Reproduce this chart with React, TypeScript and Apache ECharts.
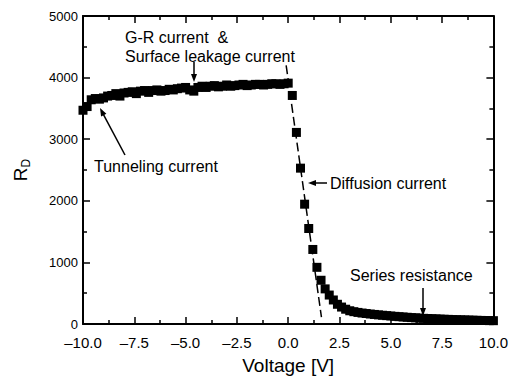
import React, { useEffect, useRef } from "react";
import * as echarts from "echarts";

const FONT = "'Liberation Sans', Arial, Helvetica, sans-serif";

// Measured R_D values (V step 0.2 V)
const reverseV: number[] = [
  -10.0, -9.8, -9.6, -9.4, -9.2, -9.0, -8.8, -8.6, -8.4, -8.2, -8.0, -7.8, -7.6, -7.4, -7.2, -7.0,
  -6.8, -6.6, -6.4, -6.2, -6.0, -5.8, -5.6, -5.4, -5.2, -5.0, -4.8, -4.6, -4.4, -4.2, -4.0, -3.8,
  -3.6, -3.4, -3.2, -3.0, -2.8, -2.6, -2.4, -2.2, -2.0, -1.8, -1.6, -1.4, -1.2, -1.0, -0.8, -0.6,
  -0.4, -0.2, 0.0,
];
const reverseR: number[] = [
  3470, 3530, 3640, 3660, 3650, 3670, 3700, 3710, 3740, 3700, 3750, 3760, 3770, 3740, 3780, 3790,
  3760, 3790, 3800, 3780, 3790, 3810, 3800, 3820, 3830, 3840, 3800, 3780, 3840, 3860, 3840, 3860,
  3870, 3850, 3860, 3880, 3860, 3870, 3880, 3890, 3870, 3880, 3890, 3890, 3880, 3890, 3900, 3900,
  3890, 3900, 3910,
];
const forwardV: number[] = [
  0.2, 0.4, 0.6, 0.8, 1.0, 1.2, 1.4, 1.6, 1.8, 2.0, 2.2, 2.4, 2.6, 2.8, 3.0, 3.2, 3.4, 3.6, 3.8,
  4.0, 4.2, 4.4, 4.6, 4.8, 5.0, 5.2, 5.4, 5.6, 5.8, 6.0, 6.2, 6.4, 6.6, 6.8, 7.0, 7.2, 7.4, 7.6,
  7.8, 8.0, 8.2, 8.4, 8.6, 8.8, 9.0, 9.2, 9.4, 9.6, 9.8, 10.0,
];
const forwardR: number[] = [
  3710, 3110, 2530, 1945, 1550, 1210, 920, 710, 570, 470, 390, 320, 275, 240, 215, 200, 188, 178,
  170, 162, 155, 148, 142, 136, 130, 124, 119, 114, 109, 104, 100, 96, 92, 89, 86, 83, 80, 77, 75,
  72, 70, 68, 66, 64, 62, 60, 58, 57, 55, 54,
];
// Diffusion-current fit (dashed)
const fitV: number[] = [-0.1, 1.62];
const fitR: number[] = [4200, 110];

const xTicks = { min: -10, max: 10, interval: 2.5 };
const yTicks = { min: 0, max: 5000, interval: 1000 };

function arrow(x1: number, y1: number, x2: number, y2: number) {
  const dx = x2 - x1;
  const dy = y2 - y1;
  const len = Math.sqrt(dx * dx + dy * dy);
  const ux = dx / len;
  const uy = dy / len;
  const hl = 8;
  const hw = 3;
  const bx = x2 - ux * hl;
  const by = y2 - uy * hl;
  return [
    {
      type: "line",
      shape: { x1, y1, x2: bx + ux * 2, y2: by + uy * 2 },
      style: { stroke: "#000", lineWidth: 1.5 },
      silent: true,
    },
    {
      type: "polygon",
      shape: {
        points: [
          [x2, y2],
          [bx - uy * hw, by + ux * hw],
          [bx + uy * hw, by - ux * hw],
        ],
      },
      style: { fill: "#000" },
      silent: true,
    },
  ];
}

function label(text: string, x: number, y: number) {
  return {
    type: "text",
    x,
    y,
    style: {
      text,
      fontSize: 16,
      fontFamily: FONT,
      fill: "#000",
      align: "left",
      verticalAlign: "middle",
    },
    silent: true,
  };
}

export default function App() {
  const ref = useRef<HTMLDivElement>(null);
  useEffect(() => {
    if (!ref.current) return;
    const chart = echarts.init(ref.current, undefined, { renderer: "svg" });
    const fmtX = (v: number) => v.toFixed(1).replace("-", "\u2013");
    const fmtY = (v: number) => String(v);
    const axisCommon = {
      axisLine: { show: true, onZero: false, lineStyle: { color: "#000", width: 2 } },
      axisTick: { show: true, inside: true, length: 7, lineStyle: { color: "#000", width: 1.5 } },
      minorTick: { show: true, splitNumber: 2, length: 4, lineStyle: { color: "#000", width: 1.5 } },
      splitLine: { show: false },
      minorSplitLine: { show: false },
    };
    const markerStyle = { color: "#000", opacity: 1 };
    chart.setOption({
      animation: false,
      backgroundColor: "#fff",
      grid: { left: 83, right: 14, top: 16, bottom: 56 },
      xAxis: [
        {
          type: "value",
          position: "bottom",
          ...xTicks,
          ...axisCommon,
          axisLabel: { fontSize: 15, fontFamily: FONT, color: "#000", margin: 11, formatter: fmtX },
          name: "Voltage [V]",
          nameLocation: "middle",
          nameGap: 32,
          nameTextStyle: { fontSize: 19, fontFamily: FONT, color: "#000" },
        },
        {
          type: "value",
          position: "top",
          ...xTicks,
          ...axisCommon,
          axisLabel: { show: false },
        },
      ],
      yAxis: [
        {
          type: "value",
          position: "left",
          ...yTicks,
          ...axisCommon,
          axisLabel: { fontSize: 13, fontFamily: FONT, color: "#000", margin: 5, formatter: fmtY },
          name: "{r|R}{d|D}",
          nameLocation: "middle",
          nameRotate: 90,
          nameGap: 51,
          nameTextStyle: {
            fontFamily: FONT,
            color: "#000",
            rich: {
              r: { fontSize: 19, fontFamily: FONT, color: "#000", lineHeight: 24, verticalAlign: "middle" },
              d: { fontSize: 12, fontFamily: FONT, color: "#000", lineHeight: 12, verticalAlign: "bottom" },
            },
          },
        },
        {
          type: "value",
          position: "right",
          ...yTicks,
          ...axisCommon,
          axisLabel: { show: false },
        },
      ],
      series: [
        {
          name: "Diffusion fit",
          type: "line",
          xAxisIndex: 0,
          yAxisIndex: 0,
          data: fitV.map((v, i) => [v, fitR[i]]),
          symbol: "none",
          lineStyle: { color: "#000", width: 1.5, type: [9, 4] },
          z: 3,
        },
        {
          name: "Reverse",
          type: "scatter",
          xAxisIndex: 0,
          yAxisIndex: 0,
          data: reverseV.map((v, i) => [v, reverseR[i]]),
          symbol: "rect",
          symbolSize: 9,
          itemStyle: markerStyle,
          z: 4,
        },
        {
          name: "Forward",
          type: "scatter",
          xAxisIndex: 0,
          yAxisIndex: 0,
          data: forwardV.map((v, i) => [v, forwardR[i]]),
          symbol: "rect",
          symbolSize: 9,
          itemStyle: markerStyle,
          z: 4,
        },
      ],
      graphic: [
        label("G-R current  &", 125, 37.5),
        label("Surface leakage current", 125, 56),
        ...arrow(194, 62, 194, 82),
        label("Tunneling current", 94, 166),
        ...arrow(125, 155, 100, 108),
        label("Diffusion current", 330, 183),
        ...arrow(327, 183, 308, 183),
        label("Series resistance", 350, 275.5),
        ...arrow(423, 288, 423, 316),
      ],
    });
    return () => chart.dispose();
  }, []);
  return <div ref={ref} style={{ width: 511, height: 380, position: "absolute", left: 0, top: 0 }} />;
}
